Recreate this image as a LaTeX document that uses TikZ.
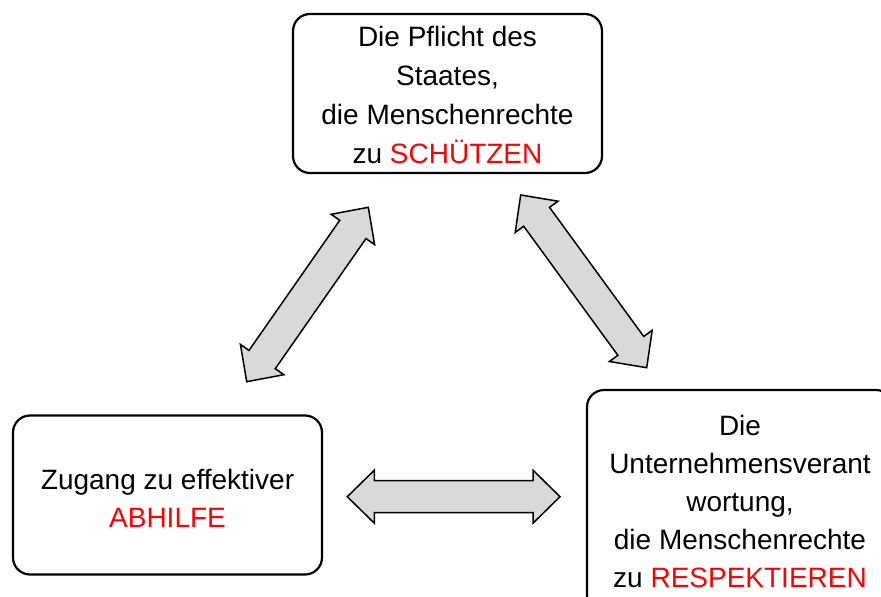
\documentclass[tikz,border=0pt]{standalone}
\usepackage{fontspec}
\setmainfont{Liberation Sans}
\usetikzlibrary{calc}
\definecolor{arrowgray}{HTML}{D9D9D9}
\definecolor{accent}{HTML}{FF0000}
\newcommand{\blockarrow}[3]{%
  \path coordinate (#1ha) at ($(#2)!27pt!(#3)$)
        coordinate (#1hb) at ($(#3)!27pt!(#2)$);
  \draw[blockarr]
    (#2) -- ($(#1ha)!26.5pt!90:(#3)$) -- ($(#1ha)!16pt!90:(#3)$)
    -- ($(#1hb)!16pt!-90:(#2)$) -- ($(#1hb)!26.5pt!-90:(#2)$)
    -- (#3) -- ($(#1hb)!26.5pt!90:(#2)$) -- ($(#1hb)!16pt!90:(#2)$)
    -- ($(#1ha)!16pt!-90:(#3)$) -- ($(#1ha)!26.5pt!-90:(#3)$) -- cycle;
}
\tikzset{
  box/.style={draw=black, line width=2.2pt, rounded corners=17pt, align=center,
    font=\fontsize{28}{38.3}\selectfont, inner sep=0pt},
  blockarr/.style={draw=black, fill=arrowgray, line width=1.5pt, line join=miter},
}
\begin{document}
\begin{tikzpicture}[x=1pt,y=-1pt]
\useasboundingbox (0,0) rectangle (881,597);
\clip (0,0) rectangle (881,597);
\fill[white] (0,0) rectangle (881,597);
\node[box, minimum width=309pt, minimum height=159pt, font=\fontsize{28}{38.8}\selectfont] (top) at (447.5,93.5)
  {\rule{0pt}{23pt}Die Pflicht des\\Staates,\\die Menschenrechte\\zu \textcolor{accent}{SCHÜTZEN}};
\node[box, minimum width=309pt, minimum height=159pt] (left) at (167.5,495)
  {\rule{0pt}{27pt}Zugang zu effektiver\\\textcolor{accent}{ABHILFE}};
\node[box, minimum width=306pt, minimum height=222pt, font=\fontsize{28}{38}\selectfont] (right) at (740,501)
  {Die\\Unternehmensverant\\wortung,\\die Menschenrechte\\zu \textcolor{accent}{RESPEKTIEREN}};
\coordinate (l1) at (368.3,207.3);
\coordinate (l2) at (246.7,381.7);
\coordinate (r1) at (520.7,195);
\coordinate (r2) at (646.7,367.7);
\coordinate (h1) at (347.3,496.7);
\coordinate (h2) at (560,496.7);
\blockarrow{la}{l1}{l2}
\blockarrow{ra}{r1}{r2}
\blockarrow{ha}{h1}{h2}
\end{tikzpicture}
\end{document}
